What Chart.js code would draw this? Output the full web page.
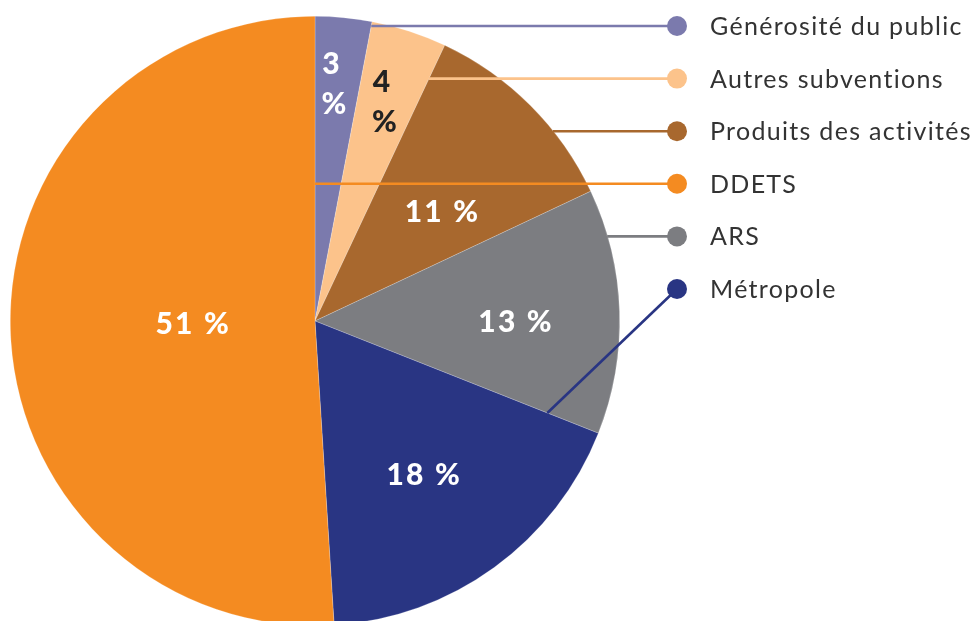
<!DOCTYPE html>
<html><head><meta charset="utf-8">
<script src="https://cdn.jsdelivr.net/npm/chart.js@4"></script>
<style>
html,body{margin:0;padding:0;background:#fff;overflow:hidden;width:970px;height:621px}
#wrap{position:relative;width:970px;height:640px}
canvas{display:block}
</style>
</head><body><div id="wrap"><canvas id="c" width="970" height="640"></canvas></div>
<script>
// ---- data ----
const categories = ['Générosité du public', 'Autres subventions', 'Produits des activités', 'ARS', 'Métropole', 'DDETS'];
const values = [3, 4, 11, 13, 18, 51];
const valueLabels = [['3', '%'], ['4', '%'], ['11 %'], ['13 %'], ['18 %'], ['51 %']];
const legendOrder = ['Générosité du public', 'Autres subventions', 'Produits des activités', 'DDETS', 'ARS', 'Métropole'];

// ---- styles ----
const colors = ['#7b7aad', '#fcc38b', '#a8682e', '#7c7d81', '#293583', '#f48b21'];
const labelColors = ['#ffffff', '#222222', '#ffffff', '#ffffff', '#ffffff', '#ffffff'];
const labelRadius = [0.78, 0.75, 0.55, 0.66, 0.62, 0.40];
const labelAngleShift = [-1.3, -0.8, 4.5, 2.2, 0.7, 0.3];
const legendX = 677, legendTop = 26, legendStep = 52.6, markerR = 10, legendTextX = 710;

const overlay = {
  id: 'overlay',
  afterDatasetsDraw(chart) {
    const ctx = chart.ctx;
    const meta = chart.getDatasetMeta(0);
    // leader lines + legend
    legendOrder.forEach((name, row) => {
      const i = categories.indexOf(name);
      const arc = meta.data[i];
      const p = arc.getProps(['x', 'y', 'startAngle', 'endAngle', 'outerRadius'], true);
      const y = legendTop + row * legendStep;
      let sx = null, sy = y;
      const dy = y - p.y;
      if (Math.abs(dy) < p.outerRadius) {
        const w = Math.sqrt(p.outerRadius * p.outerRadius - dy * dy);
        for (let x = p.x + w - 0.5; x >= p.x - w; x -= 0.5) {
          if (arc.inRange(x, y, true)) { sx = x; break; }
        }
      }
      if (sx === null) {
        sx = p.x + Math.cos(p.startAngle) * p.outerRadius * 0.82;
        sy = p.y + Math.sin(p.startAngle) * p.outerRadius * 0.82;
      }
      ctx.save();
      ctx.strokeStyle = colors[i];
      ctx.lineWidth = 2.6;
      ctx.beginPath();
      ctx.moveTo(sx, sy);
      ctx.lineTo(legendX, y);
      ctx.stroke();
      ctx.fillStyle = colors[i];
      ctx.beginPath();
      ctx.arc(legendX, y, markerR, 0, Math.PI * 2);
      ctx.fill();
      ctx.fillStyle = '#333333';
      ctx.font = '25px Lato, "Open Sans", sans-serif';
      ctx.textAlign = 'left';
      ctx.textBaseline = 'middle';
      try { ctx.letterSpacing = '1.3px'; } catch (e) {}
      ctx.fillText(name, legendTextX, y + 1);
      ctx.restore();
    });
    // value labels
    meta.data.forEach((arc, i) => {
      const p = arc.getProps(['x', 'y', 'startAngle', 'endAngle', 'outerRadius'], true);
      const a = (p.startAngle + p.endAngle) / 2 + labelAngleShift[i] * Math.PI / 180;
      const r = p.outerRadius * labelRadius[i];
      const cx = p.x + Math.cos(a) * r, cy = p.y + Math.sin(a) * r;
      const lines = valueLabels[i];
      const lh = 40;
      ctx.save();
      ctx.fillStyle = labelColors[i];
      ctx.font = '900 30px Lato, "Open Sans", sans-serif';
      ctx.textAlign = 'center';
      ctx.textBaseline = 'middle';
      try { ctx.letterSpacing = '2.2px'; } catch (e) {}
      lines.forEach((t, k) => {
        ctx.fillText(t, cx + k * 3, cy + (k - (lines.length - 1) / 2) * lh);
      });
      ctx.restore();
    });
  }
};

new Chart(document.getElementById('c'), {
  type: 'pie',
  data: {
    labels: categories,
    datasets: [{
      data: values,
      backgroundColor: colors,
      borderColor: 'rgba(255,255,255,0.35)',
      borderWidth: 0.6
    }]
  },
  options: {
    responsive: false,
    animation: false,
    devicePixelRatio: 1,
    layout: { padding: { left: 10, top: 16, right: 350, bottom: 14 } },
    plugins: { legend: { display: false }, tooltip: { enabled: false } }
  },
  plugins: [overlay]
});
</script>
</body></html>
